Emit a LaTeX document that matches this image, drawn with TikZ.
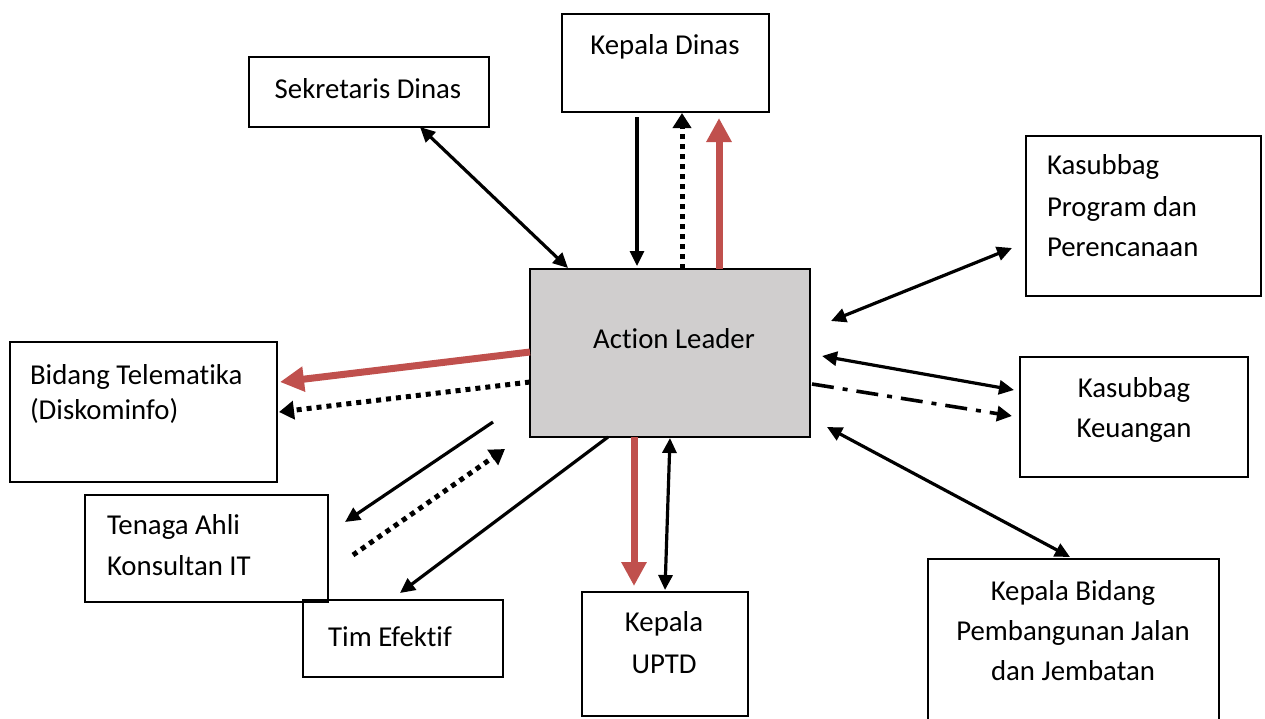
\documentclass[tikz,border=0pt]{standalone}
\usepackage{fontspec}
\setmainfont{Carlito}[Ligatures=NoCommon]
\usetikzlibrary{arrows.meta,calc}
\definecolor{redc}{HTML}{C0504D}
\definecolor{alfill}{HTML}{D0CECE}
\begin{document}
\begin{tikzpicture}[x=1pt,y=-1pt,
  box/.style={draw=black,line width=1.6pt,inner sep=0pt,outer sep=0pt,rectangle},
  txt/.style={font=\fontsize{28.8}{41}\selectfont,inner sep=0pt,outer sep=0pt,anchor=base},
  txtl/.style={txt,anchor=base west},
  blk/.style={line width=3.2pt,-{Triangle[length=15pt,width=14pt]}},
  blkb/.style={line width=3.2pt,{Triangle[length=15pt,width=14pt]}-{Triangle[length=15pt,width=14pt]}},
  dotarr/.style={line width=5pt,dash pattern=on 5pt off 5pt,-{Triangle[length=15pt,width=18pt]}},
  redarr/.style={draw=redc,line width=7pt,-{Triangle[length=24pt,width=24pt]}},
  dashdot/.style={line width=3.6pt,dash pattern=on 22pt off 9pt on 5pt off 9pt,-{Triangle[length=15pt,width=15pt]}}
]
\useasboundingbox (0,0) rectangle (1265,718);
% boxes
\node[box,minimum width=207pt,minimum height=98pt] (kd) at (665.5,63) {};
\node[box,minimum width=240pt,minimum height=70pt] (sd) at (369,92) {};
\node[box,minimum width=235pt,minimum height=160pt] (kp) at (1143.5,216) {};
\node[box,fill=alfill,minimum width=280pt,minimum height=168pt] (al) at (670,353) {};
\node[box,minimum width=267pt,minimum height=140pt] (bt) at (143.5,412) {};
\node[box,minimum width=228pt,minimum height=120pt] (kk) at (1134,417) {};
\node[box,minimum width=243pt,minimum height=107pt] (ta) at (206.5,548.5) {};
\node[box,minimum width=200pt,minimum height=77pt] (te) at (403,638.5) {};
\node[box,minimum width=166pt,minimum height=124pt] (ku) at (665,654) {};
\node[box,minimum width=291pt,minimum height=181pt] (kb) at (1073.5,649.5) {};
% texts
\node[txt] (kdt) at (665,54) {Kepala Dinas};
\node[txt] (sdt) at (368,98) {Sekretaris Dinas};
\node[txtl] (kpt1) at (1047,174) {Kasubbag};
\node[txtl] (kpt2) at (1047,216) {Program dan};
\node[txtl] (kpt3) at (1047,256) {Perencanaan};
\node[txt] (alt) at (674,348) {Action Leader};
\node[txtl] (btt1) at (30,384) {Bidang Telematika};
\node[txtl] (btt2) at (30,419) {(Diskominfo)};
\node[txt] (kkt1) at (1134,397) {Kasubbag};
\node[txt] (kkt2) at (1134,437) {Keuangan};
\node[txtl] (tat1) at (107,534) {Tenaga Ahli};
\node[txtl] (tat2) at (107,575) {Konsultan IT};
\node[txt] (tet) at (390,646) {Tim Efektif};
\node[txt] (kut1) at (664,631) {Kepala};
\node[txt] (kut2) at (664,673) {UPTD};
\node[txt] (kbt1) at (1073,600) {Kepala Bidang};
\node[txt] (kbt2) at (1073,640) {Pembangunan Jalan};
\node[txt] (kbt3) at (1073,680) {dan Jembatan};
% connectors
\draw[blkb] ($(sd.south west)+(171,0)$) -- ($(al.north west)+(38,-1)$);
\draw[blk] ($(kd.south west)+(75,5)$) -- ($(al.north west)+(107,-3)$);
\draw[dotarr] ($(al.north west)+(152,0)$) -- ($(kd.south west)+(120,1)$);
\draw[redarr] ($(al.north west)+(189,0)$) -- ($(kd.south west)+(157,6)$);
\draw[blkb] ($(kp.north west)+(-14,112)$) -- ($(al.north east)+(21,52)$);
\draw[blkb] ($(al.north east)+(12,87)$) -- ($(kk.north west)+(-6,33)$);
\draw[dashdot] ($(al.north east)+(2,115)$) -- ($(kk.north west)+(-8,59)$);
\draw[blkb] ($(al.south east)+(17,-10)$) -- ($(kb.north west)+(142,-2)$);
\draw[redarr] ($(al.north west)+(0,83)$) -- ($(bt.north east)+(3,40)$);
\draw[dotarr] ($(al.north west)+(0,113)$) -- ($(bt.north east)+(2,70)$);
\draw[blk] ($(al.south west)+(-37,-15)$) -- ($(ta.north east)+(17,27)$);
\draw[dotarr] ($(ta.north east)+(25,60)$) -- ($(al.south west)+(-25,12)$);
\draw[blk] ($(al.south west)+(78,0)$) -- ($(te.north west)+(97,-7)$);
\draw[redarr] ($(al.south west)+(104,0)$) -- ($(ku.north west)+(52,-6)$);
\draw[blkb] ($(al.south west)+(140,1)$) -- ($(ku.north west)+(83,-2)$);
\end{tikzpicture}
\end{document}
